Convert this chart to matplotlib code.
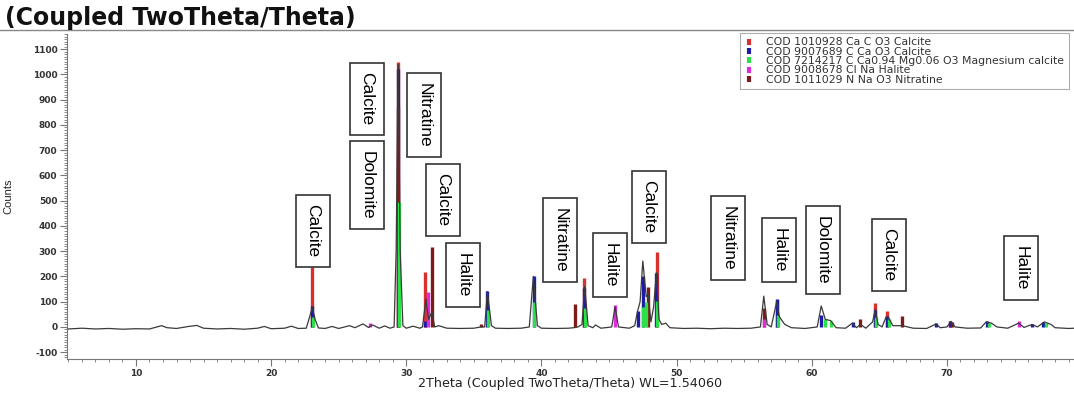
import matplotlib
matplotlib.use("Agg")
import matplotlib.pyplot as plt
from matplotlib.lines import Line2D
from matplotlib.ticker import MultipleLocator, FuncFormatter

# ---------------- data ----------------
# measured pattern (2Theta, counts) read from picture
obs_x = [5.0, 6.0, 7.0, 8.0, 9.0, 10.0, 11.0, 11.9, 12.3, 13.0, 13.9, 14.5, 15.0, 16.0, 17.0,
         18.0, 19.0, 19.5, 20.0, 21.0, 21.5, 22.0, 22.6, 22.85, 23.05, 23.25, 23.5, 24.0, 24.5,
         25.0, 25.8, 26.2, 26.8, 27.2, 27.5, 28.0, 28.4, 28.8, 29.1, 29.25, 29.4, 29.55, 29.75,
         30.0, 30.5, 31.0, 31.2, 31.45, 31.65, 31.9, 32.1, 32.4, 33.0, 34.0, 35.0, 35.5, 35.8,
         36.0, 36.3, 36.6, 37.5, 38.5, 39.1, 39.4, 39.7, 40.0, 41.0, 42.0, 42.4, 42.7, 43.0,
         43.2, 43.45, 43.8, 44.0, 44.4, 45.2, 45.45, 45.7, 46.5, 46.9, 47.1, 47.3, 47.5, 47.75,
         47.9, 48.1, 48.3, 48.5, 48.7, 48.9, 49.2, 49.5, 50.5, 51.5, 52.5, 53.5, 54.5, 55.5,
         56.2, 56.45, 56.7, 57.0, 57.4, 57.6, 58.0, 58.5, 59.5, 60.4, 60.7, 61.0, 61.4, 61.8,
         62.5, 63.0, 63.3, 63.6, 64.0, 64.5, 64.7, 64.9, 65.2, 65.5, 65.7, 66.0, 66.7, 67.5,
         68.5, 69.2, 69.5, 70.0, 70.3, 70.6, 71.5, 72.5, 72.9, 73.3, 73.7, 74.5, 75.3, 75.7,
         76.3, 76.7, 77.2, 77.7, 78.0, 79.0, 79.5]
obs_y = [-8, -5, -8, -6, -9, -7, -8, 5, -3, -6, 2, 6, -5, -8, -6,
         -9, -5, 2, -7, -5, 3, -6, -5, 40, 78, 30, -4, -6, 2,
         -6, 5, -3, 12, -2, 8, -5, 4, -5, 0, 300, 1040, 300, 5,
         -5, 3, -5, 0, 110, 30, 60, 0, 5, -5, -6, -5, 0, 0,
         140, 5, -5, -6, -5, 0, 200, 5, -5, -6, -5, -3, 0, 10,
         160, 5, -3, 8, -5, 0, 80, 0, -5, 5, 60, 100, 261, 120,
         130, 20, 80, 215, 30, 10, 15, -3, -6, -5, -7, -5, -6, -5,
         0, 122, 10, 0, 100, 40, 10, -3, -6, 0, 83, 30, 25, -3,
         -5, 15, -3, 10, -5, 20, 70, 10, 0, 40, 35, 5, 5, -5,
         -6, 12, -3, 0, 22, 0, -5, -4, 20, 15, 0, -5, 15, -2,
         10, 0, 20, 10, -3, -6, -5]

# reference patterns (stick positions / intensities)
cal1_x = [23.05, 29.40, 31.42, 43.15, 48.52, 57.40, 64.68, 65.60, 70.25]
cal1_y = [237, 1051, 217, 194, 296, 105, 95, 63, 25]

cal2_x = [23.05, 29.40, 31.40, 36.00, 39.42, 43.15, 47.12, 47.50, 48.50, 57.40, 60.68,
          63.05, 64.65, 65.58, 69.20, 70.25, 72.95, 76.30, 77.10]
cal2_y = [83, 1020, 25, 142, 200, 155, 63, 200, 213, 110, 47,
          20, 67, 45, 15, 25, 25, 12, 20]

mgcal_x = [23.10, 29.45, 36.05, 39.45, 43.20, 47.55, 47.75, 48.55, 57.50, 61.00, 61.40,
           64.75, 65.70, 73.10, 77.30]
mgcal_y = [40, 494, 67, 100, 75, 80, 100, 103, 47, 30, 25, 40, 30, 15, 15]

hal_x = [27.35, 31.60, 45.45, 56.45, 75.30]
hal_y = [15, 138, 87, 30, 22]

nit_x = [29.38, 31.90, 35.50, 42.45, 47.90, 56.45, 63.55, 66.65, 70.35]
nit_y = [870, 316, 10, 90, 158, 75, 30, 43, 20]

legend_labels = ["COD 1010928 Ca C O3 Calcite",
                 "COD 9007689 C Ca O3 Calcite",
                 "COD 7214217 C Ca0.94 Mg0.06 O3 Magnesium calcite",
                 "COD 9008678 Cl Na Halite",
                 "COD 1011029 N Na O3 Nitratine"]

# phase annotation labels (text, 2Theta, counts at box centre)
ann_text = ["Calcite", "Calcite", "Dolomite", "Nitratine", "Calcite", "Halite", "Nitratine",
            "Halite", "Calcite", "Nitratine", "Halite", "Dolomite", "Calcite", "Halite"]
ann_x = [23.1, 27.1, 27.1, 31.3, 32.7, 34.2, 41.4, 45.05, 47.94, 53.8, 57.6, 60.8, 65.7, 75.5]
ann_y = [380, 903, 562, 840, 503, 206, 344, 246, 475, 352, 305, 305, 285, 234]

# ---------------- style ----------------
c_red = "#d8302c"
c_blue = "#1c1ca6"
c_green = "#2ee048"
c_mag = "#e02ae0"
c_dred = "#7e1a1a"

fig = plt.figure(figsize=(10.74, 3.96), dpi=100)
ax = fig.add_axes([0.0624, 0.0934, 0.9376, 0.8206])

lw = 2.4
ax.vlines(cal1_x, 0, cal1_y, color=c_red, lw=lw, zorder=2)
ax.vlines(cal2_x, 0, cal2_y, color=c_blue, lw=lw, zorder=3)
ax.vlines(nit_x, 0, nit_y, color=c_dred, lw=lw, zorder=4)
ax.vlines(hal_x, 0, hal_y, color=c_mag, lw=lw, zorder=5)
ax.vlines(mgcal_x, 0, mgcal_y, color=c_green, lw=lw, zorder=6)

ax.plot(obs_x, obs_y, color="#3a3a3a", lw=0.9, zorder=7)

ax.set_xlim(4.9, 79.4)
ax.set_ylim(-127, 1160)

for s in ["top", "right"]:
    ax.spines[s].set_visible(False)
for s in ["left", "bottom"]:
    ax.spines[s].set_color("#777777")
    ax.spines[s].set_linewidth(0.8)

ax.xaxis.set_major_locator(MultipleLocator(10))
ax.xaxis.set_minor_locator(MultipleLocator(1))
ax.yaxis.set_major_locator(MultipleLocator(100))
ax.yaxis.set_minor_locator(MultipleLocator(10))
ax.xaxis.set_major_formatter(FuncFormatter(lambda v, p: "%d" % v))
ax.yaxis.set_major_formatter(FuncFormatter(lambda v, p: "%d" % v))
ax.tick_params(axis="both", which="major", length=5, width=0.8, color="#777777",
               labelsize=6.5, labelcolor="#333333", pad=2)
ax.tick_params(axis="both", which="minor", length=2.5, width=0.6, color="#777777")
for t in ax.get_xticklabels() + ax.get_yticklabels():
    t.set_fontweight("bold")

ax.set_ylabel("Counts", fontsize=8, family="Liberation Sans", color="#222222", labelpad=14)
ax.set_xlabel("2Theta (Coupled TwoTheta/Theta) WL=1.54060", fontsize=9.2, color="#222222")
ax.xaxis.set_label_coords(0.5, -0.055)

for t, x, y in zip(ann_text, ann_x, ann_y):
    ax.text(x, y, t, rotation=270, ha="center", va="center", fontsize=12.5,
            family="Liberation Sans", color="black", zorder=10,
            bbox=dict(boxstyle="square,pad=0.55", fc="white", ec="#333333", lw=1.2))

handles = [Line2D([], [], color=c, marker="|", markersize=5, markeredgewidth=3, linestyle="None")
           for c in [c_red, c_blue, c_green, c_mag, c_dred]]
leg = ax.legend(handles, legend_labels, loc="upper right", bbox_to_anchor=(0.9968, 1.01),
                fontsize=7.8, frameon=True, fancybox=False, handlelength=0.8, handletextpad=1.2,
                labelspacing=-0.06, borderpad=0.4, borderaxespad=0.2)
leg.get_frame().set_edgecolor("#9a9a9a")
leg.get_frame().set_linewidth(0.8)
for t in leg.get_texts():
    t.set_color("#333333")

fig.text(0.005, 0.955, "(Coupled TwoTheta/Theta)", fontsize=17, fontweight="bold",
         ha="left", va="center", color="#111111")
fig.add_artist(Line2D([0, 1], [0.925, 0.925], color="#888888", lw=1.0, transform=fig.transFigure))

fig.savefig("out.png", dpi=100)
